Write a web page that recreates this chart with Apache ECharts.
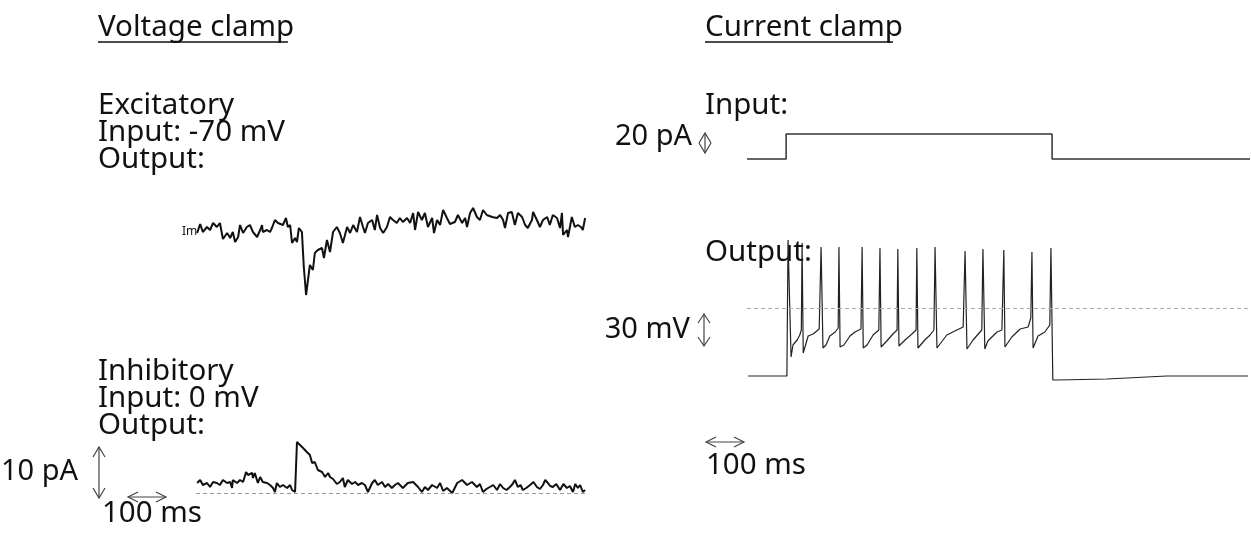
<!DOCTYPE html>
<html>
<head>
<meta charset="utf-8">
<script src="https://cdn.jsdelivr.net/npm/echarts@6/dist/echarts.min.js"></script>
<style>
  html, body { margin: 0; padding: 0; background: #fff; }
  #main { width: 1251px; height: 535px; }
</style>
</head>
<body>
<div id="main"></div>
<script>
// voltage clamp, excitatory (-70 mV), time in ms, current in pA
const excTime = [3,11,18,29,37,45,55,63,71,82,90,97,103,111,116,124,134,142,150,161,
  169,174,176,187,195,200,208,216,221,229,237,242,248,253,261,266,271,279,284,290,
  295,300,308,313,321,332,337,345,353,361,371,379,387,398,406,414,424,432,440,445,
  453,464,471,477,485,493,503,511,519,529,537,545,556,564,572,577,585,595,603,611,
  622,627,635,643,651,661,669,682,690,701,709,714,722,730,740,748,756,766,780,793,
  801,809,814,822,832,840,848,859,867,874,885,888,898,906,914,925,932,940,951,959,
  964,967,977,980,990,998,1006,1014,1019,1025];
const excCurrent = [-0.2,1.6,0,1.0,0.4,1.8,1.0,1.8,-1.4,-0.2,-1.2,0,-2.0,-1.0,1.4,-0.2,1.0,1.4,0,-1.0,
  0.4,1.4,0,0.4,0,0.8,2.4,1.8,2.2,1.4,2.8,1.0,1.4,-2.2,-1.2,-2.0,0.8,0,-7.0,-12.6,
  -9.6,-6.6,-7.6,-4.2,-3.6,-3.2,-5.2,-1.6,-4.0,0,1.0,-0.2,-2.2,1.0,-0.2,1.4,0,3.0,1.0,-0.2,
  1.8,2.4,0.4,3.4,0.8,-0.2,1.0,3.0,2.4,1.8,2.8,2.0,2.8,1.8,3.8,0.4,4.0,2.4,3.8,1.0,
  2.8,-0.2,2.4,1.4,4.4,2.8,1.6,2.0,3.4,1.8,2.8,1.0,3.8,4.8,3.0,2.4,4.4,3.4,3.0,2.8,
  3.4,2.4,0.8,3.8,4.0,1.4,3.8,3.0,1.4,0.8,2.4,4.0,2.4,1.0,2.4,3.0,1.4,3.4,2.8,0.8,
  3.8,-0.6,0.4,-1.0,3.0,1.0,1.4,1.0,0.4,2.8];

// voltage clamp, inhibitory (0 mV)
const inhTime = [3,11,18,29,37,45,55,63,71,82,90,95,97,108,116,124,132,137,148,150,
  155,163,169,176,187,195,203,208,213,221,229,240,248,253,261,266,274,282,292,300,
  306,313,321,332,340,348,353,361,371,379,387,392,400,411,419,427,437,445,453,464,
  471,479,490,498,506,516,524,532,545,558,572,585,595,603,611,622,635,643,651,661,
  675,688,701,714,727,740,748,756,765,774,783,793,801,809,818,827,834,840,848,855,
  861,870,880,889,898,906,914,920,927,933,940,949,959,968,977,985,993,999,1006,1012,
  1019,1025];
const inhCurrent = [2.0,2.6,1.6,2.0,1.2,2.2,2.0,1.6,2.6,2.0,2.2,1.0,2.6,2.0,2.6,2.2,4.2,3.6,4.0,3.0,
  4.0,2.0,3.2,2.2,2.0,1.6,1.0,0.2,2.0,1.2,1.6,1.0,1.6,0.6,0.2,10.2,9.6,9.0,8.2,7.6,
  6.0,6.2,4.6,4.2,3.2,4.0,3.2,2.8,1.8,2.2,3.0,1.2,2.6,1.8,2.2,1.6,2.0,1.6,0.2,2.0,
  2.6,1.6,2.2,1.2,1.8,1.0,1.6,2.0,1.0,2.0,2.2,1.2,0.2,1.2,0.6,1.6,1.0,2.0,0.4,1.0,
  0,2.0,2.6,1.6,2.2,1.2,1.8,0.2,0.8,1.2,1.6,0.6,1.8,1.0,0.6,1.2,1.8,2.6,1.2,1.6,
  0.6,1.0,1.6,2.2,1.2,0.8,1.6,2.6,2.0,1.4,1.2,1.8,0.6,1.8,1.0,1.4,0.2,1.8,1.0,1.6,
  0.2,0.6];

// current clamp, injected step (pA)
const stepTime = [0,103,103,803,803,1324];
const stepCurrent = [0,0,25,25,0,0];

// current clamp, membrane potential (mV)
const ccTime = [3,105,108,116,121,132,139,143,145,148,153,161,174,190,193,195,200,208,218,232,
  240,242,245,255,271,284,300,303,306,316,332,347,350,353,368,384,395,397,400,416,
  434,445,447,450,468,482,492,495,500,526,547,569,574,579,595,618,621,626,634,658,
  671,676,679,697,719,740,747,750,753,766,784,797,800,805,816,947,1105,1319];
const ccVoltage = [-68,-68,68,-49,-37,-32,-27,-22,65,-45,-43,-28,-26,-21,-20,61,-40,-37,-28,-24,
  -20,61,-39,-37,-28,-24,-21,61,-40,-37,-27,-22,60,-39,-33,-26,-22,59,-38,-32,
  -26,-22,60,-40,-32,-27,-22,61,-40,-27,-23,-19,57,-41,-32,-22,59,-41,-33,-24,
  -22,58,-39,-29,-21,-19,-10,56,-40,-28,-24,-17,60,-72,-72,-71,-68,-68];

const pairs = (xs, ys) => xs.map((x, i) => [x, ys[i]]);

const FONT = '"Noto Sans", "Open Sans", sans-serif';
const INK = '#111';

const text = (x, y, str, size, align) => ({
  type: 'text',
  x: x, y: y,
  silent: true,
  style: {
    text: str,
    fill: INK,
    font: (size || 29.5) + 'px ' + FONT,
    textAlign: align || 'left',
    textVerticalAlign: 'middle'
  }
});

const rule = (x1, y1, x2, y2) => ({
  type: 'line', silent: true,
  shape: { x1, y1, x2, y2 },
  style: { stroke: INK, lineWidth: 1.5 }
});

// double headed scale arrow
const arrow = (x1, y1, x2, y2, len, half) => {
  const dx = x2 - x1, dy = y2 - y1, d = Math.hypot(dx, dy);
  const ux = dx / d, uy = dy / d, px = -uy, py = ux;
  const head = (tx, ty, sx, sy) => ({
    type: 'polyline', silent: true,
    shape: { points: [
      [tx + sx * len + px * half, ty + sy * len + py * half],
      [tx, ty],
      [tx + sx * len - px * half, ty + sy * len - py * half]
    ] },
    style: { stroke: '#444', lineWidth: 1.2, fill: null }
  });
  return [
    { type: 'line', silent: true, shape: { x1, y1, x2, y2 }, style: { stroke: '#444', lineWidth: 1.2 } },
    head(x1, y1, ux, uy),
    head(x2, y2, -ux, -uy)
  ];
};

const hidden = { show: false };
const axisX = (gi, max) => ({ type: 'value', gridIndex: gi, min: 0, max: max, show: false, splitLine: hidden });
const axisY = (gi, min, max) => ({ type: 'value', gridIndex: gi, min: min, max: max, show: false, splitLine: hidden });

const dashed = (color) => ({
  silent: true,
  symbol: 'none',
  label: { show: false },
  lineStyle: { color: color, type: [4, 3], width: 1 },
  data: [{ yAxis: 0 }]
});

const chart = echarts.init(document.getElementById('main'));

chart.setOption({
  animation: false,
  backgroundColor: '#fff',
  grid: [
    { left: 196, top: 200, width: 391, height: 100 },
    { left: 196, top: 430, width: 391, height: 70 },
    { left: 747, top: 109, width: 503, height: 75 },
    { left: 747, top: 230, width: 503, height: 160 }
  ],
  xAxis: [axisX(0, 1030), axisX(1, 1030), axisX(2, 1324), axisX(3, 1324)],
  yAxis: [axisY(0, -13.6, 6.4), axisY(1, -1.4, 12.6), axisY(2, -25, 50), axisY(3, -82, 78)],
  series: [
    {
      name: 'Excitatory', type: 'line', xAxisIndex: 0, yAxisIndex: 0,
      data: pairs(excTime, excCurrent), symbol: 'none',
      lineStyle: { color: INK, width: 2 }
    },
    {
      name: 'Inhibitory', type: 'line', xAxisIndex: 1, yAxisIndex: 1,
      data: pairs(inhTime, inhCurrent), symbol: 'none',
      lineStyle: { color: INK, width: 2 },
      markLine: dashed('#999')
    },
    {
      name: 'Input', type: 'line', xAxisIndex: 2, yAxisIndex: 2,
      data: pairs(stepTime, stepCurrent), symbol: 'none',
      lineStyle: { color: '#333', width: 1.5 }
    },
    {
      name: 'Output', type: 'line', xAxisIndex: 3, yAxisIndex: 3,
      data: pairs(ccTime, ccVoltage), symbol: 'none',
      lineStyle: { color: '#222', width: 1.2 },
      markLine: dashed('#aaa')
    }
  ],
  graphic: [
    // left column
    text(98, 28, 'Voltage clamp'),
    rule(98, 42, 288, 42),
    text(98, 106, 'Excitatory'),
    text(98, 133, 'Input: -70 mV'),
    text(98, 160, 'Output:'),
    text(182, 232, 'Im', 12),
    text(98, 372, 'Inhibitory'),
    text(98, 399, 'Input: 0 mV'),
    text(98, 426, 'Output:'),
    text(78, 472, '10 pA', 29, 'right'),
    text(102, 514, '100 ms'),
    ...arrow(99, 447, 99, 498, 10, 6),
    ...arrow(128, 497, 166, 497, 10, 5),
    // right column
    text(705, 28, 'Current clamp'),
    rule(705, 42, 893, 42),
    text(705, 106, 'Input:'),
    text(692, 137, '20 pA', 29, 'right'),
    ...arrow(705, 133, 705, 153, 10, 6),
    text(705, 253, 'Output:'),
    text(690, 330, '30 mV', 29, 'right'),
    ...arrow(704, 314, 704, 346, 9, 6),
    text(706, 466, '100 ms'),
    ...arrow(706, 442, 744, 442, 10, 5)
  ]
});
</script>
</body>
</html>
